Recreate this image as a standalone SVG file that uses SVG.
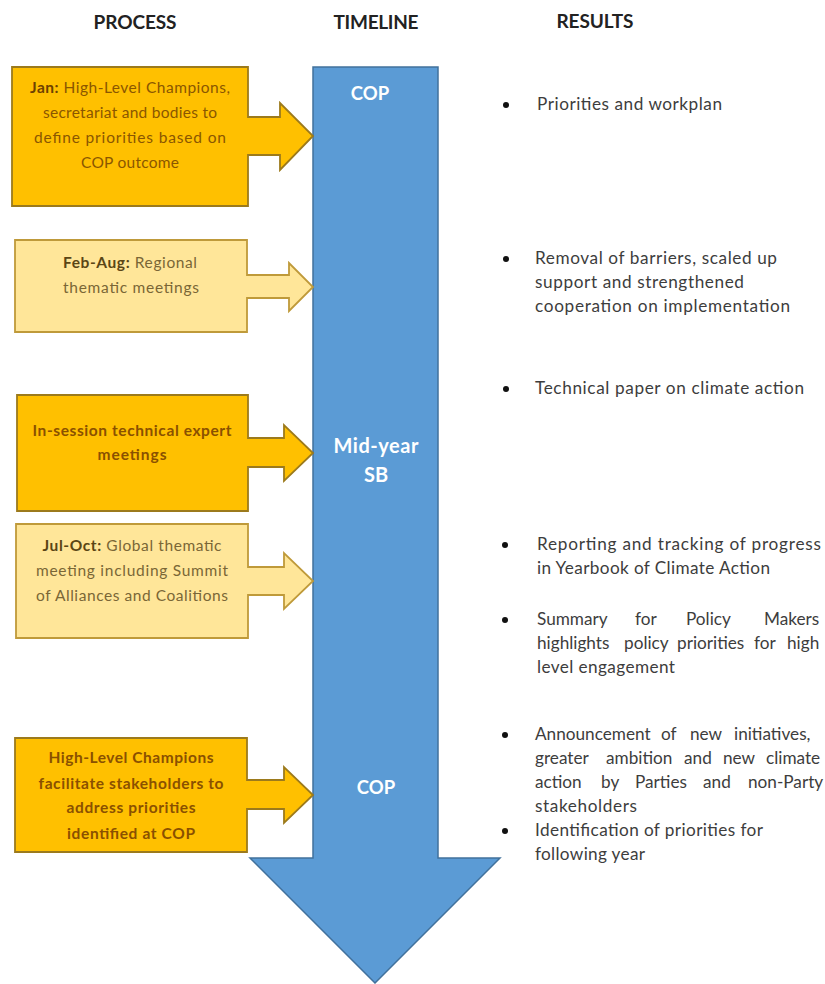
<svg xmlns="http://www.w3.org/2000/svg" width="825" height="984" viewBox="0 0 825 984">
<style>
text{font-family:Lato,"Open Sans","Liberation Sans",sans-serif}
.hdr{font-size:19px;font-weight:bold;fill:#222;text-anchor:middle}
.dark{fill:#FFC000;stroke:#9C7A1C;stroke-width:1.8}
.light{fill:#FFE699;stroke:#BF9A3A;stroke-width:1.8}
.tl{fill:#5B9BD5;stroke:#41719C;stroke-width:1.5}
.bt{font-size:15.5px;fill:#8A5600;text-anchor:middle}
.btb{font-size:15.5px;fill:#8A5000;font-weight:bold;text-anchor:middle}
.lt{font-size:15.5px;fill:#7A6636;text-anchor:middle}
.b{font-weight:bold;fill:#5A4515}
.bj{font-weight:bold;fill:#6E4100}
.tll{font-size:20px;font-weight:bold;fill:#fff;text-anchor:middle}
.cop{font-size:18.5px}
.rs{font-size:17.2px;fill:#3d3d3d}
.dot{fill:#111}
</style>
<g id="headers">
<text class="hdr" x="135" y="29" textLength="83">PROCESS</text>
<text class="hdr" x="376" y="29" textLength="85">TIMELINE</text>
<text class="hdr" x="595" y="28" textLength="77">RESULTS</text>
</g>
<g id="timeline">
<path class="tl" d="M313,67 H438 V858 H500 L375,983 L250,858 H313 Z"/>
<text class="tll cop" x="370" y="100">COP</text>
<text class="tll" x="376" y="453" textLength="85">Mid-year</text>
<text class="tll" x="376" y="482">SB</text>
<text class="tll cop" x="376" y="794">COP</text>
</g>
<g id="connectors"></g>
<g id="p1">
<path class="dark" d="M12,67 H248 V117 H280 V103 L313,136 L280,170 V155 H248 V206 H12 Z"/>
<text class="bt" x="130" y="93" textLength="200"><tspan class="bj">Jan:</tspan> High-Level Champions,</text>
<text class="bt" x="130" y="118" textLength="174">secretariat and bodies to</text>
<text class="bt" x="130" y="143" textLength="192">define priorities based on</text>
<text class="bt" x="130" y="168" textLength="98">COP outcome</text>
</g>
<g id="p2">
<path class="light" d="M15,240 H247 V275 H289 V263 L313,287 L289,311 V298 H247 V332 H15 Z"/>
<text class="lt" x="130" y="268" textLength="134"><tspan class="b">Feb-Aug:</tspan> Regional</text>
<text class="lt" x="131" y="293" textLength="136">thematic meetings</text>
</g>
<g id="p3">
<path class="dark" d="M17,395 H248 V438 H284 V425 L313,453 L284,481 V467 H248 V511 H17 Z"/>
<text class="btb" x="132" y="436" textLength="199">In-session technical expert</text>
<text class="btb" x="132" y="460" textLength="69">meetings</text>
</g>
<g id="p4">
<path class="light" d="M16,524 H248 V567 H284 V553 L313,581 L284,609 V595 H248 V638 H16 Z"/>
<text class="lt" x="132" y="551" textLength="179"><tspan class="b">Jul-Oct:</tspan> Global thematic</text>
<text class="lt" x="132" y="576" textLength="192">meeting including Summit</text>
<text class="lt" x="132" y="601" textLength="192">of Alliances and Coalitions</text>
</g>
<g id="p5">
<path class="dark" d="M15,738 H247 V780 H284 V767 L313,795 L284,823 V809 H247 V852 H15 Z"/>
<text class="btb" x="131" y="763" textLength="165">High-Level Champions</text>
<text class="btb" x="131" y="789" textLength="185">facilitate stakeholders to</text>
<text class="btb" x="131" y="813" textLength="129">address priorities</text>
<text class="btb" x="131" y="839" textLength="128">identified at COP</text>
</g>
<g id="r1">
<circle class="dot" cx="506" cy="105" r="3"/>
<text class="rs" x="537" y="110" textLength="185">Priorities and workplan</text>
</g>
<g id="r2">
<circle class="dot" cx="506" cy="259" r="3"/>
<text class="rs" x="535" y="264" textLength="242">Removal of barriers, scaled up</text>
<text class="rs" x="535" y="288" textLength="209">support and strengthened</text>
<text class="rs" x="535" y="312" textLength="255">cooperation on implementation</text>
</g>
<g id="r3">
<circle class="dot" cx="506" cy="389" r="3"/>
<text class="rs" x="535" y="394" textLength="269">Technical paper on climate action</text>
</g>
<g id="r4">
<circle class="dot" cx="505" cy="545" r="3"/>
<text class="rs" x="537" y="550" textLength="284">Reporting and tracking of progress</text>
<text class="rs" x="537" y="574" textLength="233">in Yearbook of Climate Action</text>
</g>
<g id="r5">
<circle class="dot" cx="505" cy="620" r="3"/>
<text class="rs" y="625"><tspan x="537">Summary</tspan><tspan x="635">for</tspan><tspan x="686">Policy</tspan><tspan x="764">Makers</tspan></text>
<text class="rs" y="649"><tspan x="537">highlights</tspan><tspan x="624">policy</tspan><tspan x="677">priorities</tspan><tspan x="754">for</tspan><tspan x="787">high</tspan></text>
<text class="rs" x="537" y="673" textLength="138">level engagement</text>
</g>
<g id="r6">
<circle class="dot" cx="505" cy="735" r="3"/>
<text class="rs" y="740"><tspan x="535">Announcement</tspan><tspan x="661">of</tspan><tspan x="690">new</tspan><tspan x="734">initiatives,</tspan></text>
<text class="rs" y="764"><tspan x="535">greater</tspan><tspan x="606">ambition</tspan><tspan x="684">and</tspan><tspan x="723">new</tspan><tspan x="766">climate</tspan></text>
<text class="rs" y="788"><tspan x="535">action</tspan><tspan x="601">by</tspan><tspan x="635">Parties</tspan><tspan x="703">and</tspan><tspan x="748">non-Party</tspan></text>
<text class="rs" x="535" y="812" textLength="102">stakeholders</text>
</g>
<g id="r7">
<circle class="dot" cx="505" cy="831" r="3"/>
<text class="rs" x="535" y="836" textLength="228">Identification of priorities for</text>
<text class="rs" x="535" y="860" textLength="110">following year</text>
</g>
</svg>
